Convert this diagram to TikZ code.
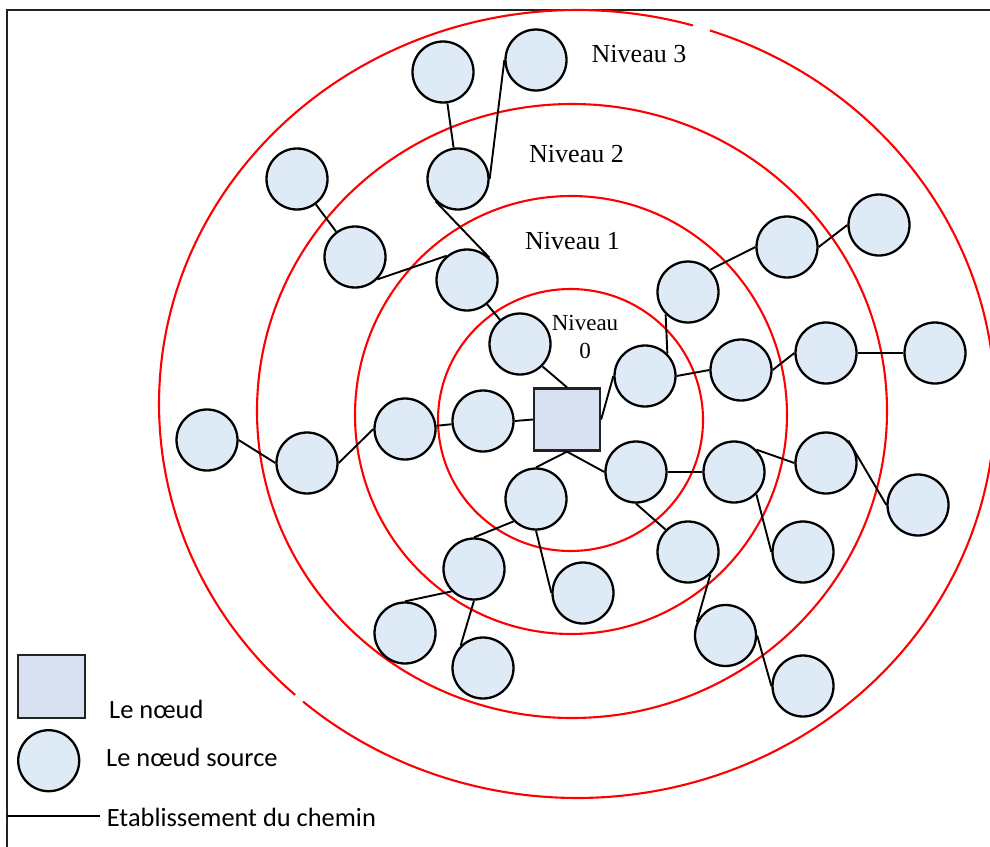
\documentclass[tikz,border=0pt]{standalone}
\usepackage{fontspec}
\setmainfont{Liberation Serif}
\newfontfamily\legendfont{Carlito}
\definecolor{nodefill}{HTML}{DEEAF6}
\definecolor{hubfill}{HTML}{D8E1F1}
\definecolor{framegray}{HTML}{222222}
\begin{document}
\begin{tikzpicture}[x=1pt,y=-1pt,
  ring/.style={draw=red, line width=2.1pt},
  src/.style={circle, draw=black, line width=2.3pt, fill=nodefill,
              minimum size=61pt, inner sep=0pt},
  hub/.style={rectangle, draw=framegray, line width=2.3pt, fill=hubfill,
              minimum width=66pt, minimum height=62pt, inner sep=0pt},
  link/.style={draw=black, line width=1.9pt},
  lvl/.style={font=\fontsize{26}{31}\selectfont, inner sep=0pt, anchor=base west},
  lvlzero/.style={font=\fontsize{23}{27.6}\selectfont, inner sep=0pt,
                  align=center, anchor=center},
  leg/.style={font=\legendfont\fontsize{26.4}{31}\selectfont, inner sep=0pt,
              anchor=base west}]

\useasboundingbox (0,0) rectangle (990,846);
\clip (0,0) rectangle (990,846);

% outer frame
\draw[framegray, line width=2.2pt] (7,860) |- (1000,10);

% level rings
\draw[ring] (570.5,420) ellipse [x radius=132.5, y radius=131];
\draw[ring] (571,415) ellipse [x radius=216, y radius=219];
\draw[ring] (572,411) ellipse [x radius=315, y radius=307];
\draw[ring] (577,404) ++(-71.45:418 and 394)
  arc[start angle=-71.45, end angle=130.95, x radius=418, y radius=394];
\draw[ring] (577,404) ++(132.4:418 and 394)
  arc[start angle=132.4, end angle=286.1, x radius=418, y radius=394];

% level labels
\node[lvl] (lv3) at (591.5,62.7) {Niveau 3};
\node[lvl] (lv2) at (529,162.7) {Niveau 2};
\node[lvl] (lv1) at (525,249.3) {Niveau 1};
\node[lvlzero] (lv0) at (585,337) {Niveau\\0};

% central node
\node[hub] (hub) at (567,419.5) {};

% source nodes
\node[src] (n1) at (443,72) {};
\node[src] (n2) at (536,60) {};
\node[src] (n3) at (458,179) {};
\node[src] (n4) at (297,179) {};
\node[src] (n5) at (355,257) {};
\node[src] (n6) at (467,280) {};
\node[src] (n7) at (520,344) {};
\node[src] (n8) at (645,376) {};
\node[src] (n9) at (688,292) {};
\node[src] (n10) at (787,247) {};
\node[src] (n11) at (879,225) {};
\node[src] (n12) at (741,370) {};
\node[src] (n13) at (826,353) {};
\node[src] (n14) at (935,353) {};
\node[src] (n15) at (483,421) {};
\node[src] (n16) at (405,429) {};
\node[src] (n17) at (307,463) {};
\node[src] (n18) at (207,440) {};
\node[src] (n19) at (536,499) {};
\node[src] (n20) at (636,472) {};
\node[src] (n21) at (734,472) {};
\node[src] (n22) at (826,463) {};
\node[src] (n23) at (918,505) {};
\node[src] (n24) at (803,552) {};
\node[src] (n25) at (688,552) {};
\node[src] (n26) at (725.5,635.5) {};
\node[src] (n27) at (803,686) {};
\node[src] (n28) at (474,569) {};
\node[src] (n29) at (583,593) {};
\node[src] (n30) at (405,633) {};
\node[src] (n31) at (483,668) {};

% paths
\draw[link] (n1) -- (n3);
\draw[link] (n2.west) -- (n3.east);
\draw[link] (n4) -- (n5);
\draw[link] (n5.south east) -- (n6.130);
\draw[link] (n3.south west) -- (n6.north east);
\draw[link] (n6) -- (n7);
\draw[link] (n7.south east) -- (hub.north);
\draw[link] (n15.east) -- (hub.west);
\draw[link] (n16) -- (n15);
\draw[link] (n17.east) -- (n16.west);
\draw[link] (n18.east) -- (n17.west);
\draw[link] (hub.east) -- (n8.west);
\draw[link] (n8.north east) -- (n9.south west);
\draw[link] (n9.north east) -- (n10.west);
\draw[link] (n10.east) -- (n11.west);
\draw[link] (n8.east) -- (n12.west);
\draw[link] (n12.east) -- (n13.west);
\draw[link] (n13.east) -- (n14.west);
\draw[link] (hub.south) -- (n19.north);
\draw[link] (hub.south) -- (n20.west);
\draw[link] (n19.south west) -- (n28.north);
\draw[link] (n19.south) -- (n29.west);
\draw[link] (n28.south west) -- (n30.north);
\draw[link] (n28.south) -- (n31.north west);
\draw[link] (n20.east) -- (n21.west);
\draw[link] (n21.north east) -- (n22.west);
\draw[link] (n22.north east) -- (n23.west);
\draw[link] (n21.south east) -- (n24.west);
\draw[link] (n20.south) -- (n25.north west);
\draw[link] (n25.south east) -- (n26.155);
\draw[link] (n26.east) -- (n27.west);

% legend
\node[hub, minimum width=67pt, minimum height=63pt] (legsq) at (51.5,686.5) {};
\node[leg] (legt1) at (109,718) {Le nœud};
\node[src] (legci) at (48.7,760.7) {};
\node[leg] (legt2) at (106,766.7) {Le nœud source};
\coordinate (legA) at (7,815.7);
\coordinate (legB) at (100,815.7);
\draw[link] (legA) -- (legB);
\node[leg] (legt3) at (106.7,826.7) {Etablissement du chemin};
\end{tikzpicture}
\end{document}
